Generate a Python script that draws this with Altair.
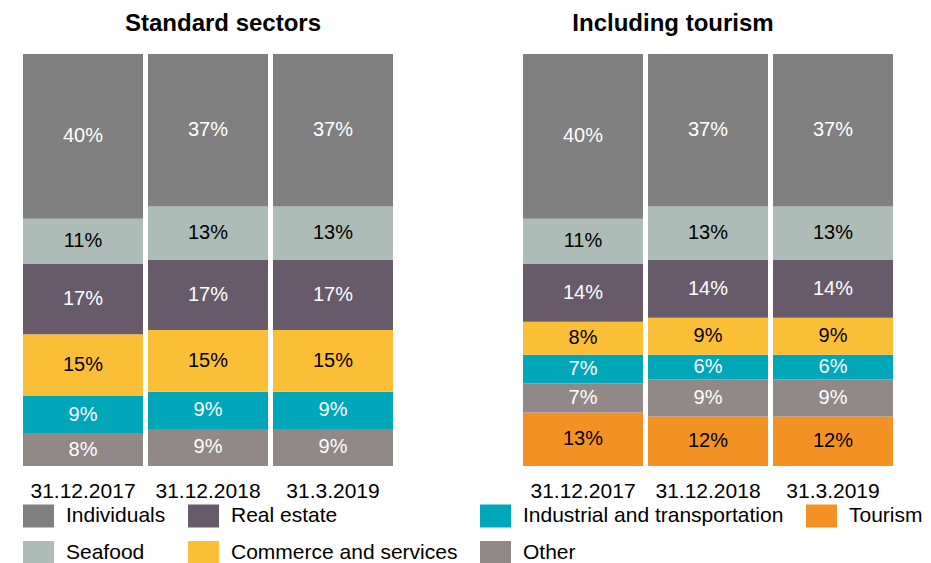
import altair as alt
import pandas as pd

dates = ["31.12.2017", "31.12.2018", "31.3.2019"]

# sectors listed in stacking order, bottom to top
std_sectors = ["Other", "Industrial and transportation", "Commerce and services",
               "Real estate", "Seafood", "Individuals"]
std_values = {
    "Other": [8, 9, 9],
    "Industrial and transportation": [9, 9, 9],
    "Commerce and services": [15, 15, 15],
    "Real estate": [17, 17, 17],
    "Seafood": [11, 13, 13],
    "Individuals": [40, 37, 37],
}

tour_sectors = ["Tourism", "Other", "Industrial and transportation", "Commerce and services",
                "Real estate", "Seafood", "Individuals"]
tour_values = {
    "Tourism": [13, 12, 12],
    "Other": [7, 9, 9],
    "Industrial and transportation": [7, 6, 6],
    "Commerce and services": [8, 9, 9],
    "Real estate": [14, 14, 14],
    "Seafood": [11, 13, 13],
    "Individuals": [40, 37, 37],
}

# legend entries (filled column by column: two rows, four columns)
legend_order = ["Individuals", "Seafood", "Real estate", "Commerce and services",
                "Industrial and transportation", "Other", "Tourism"]
legend_colors = ["#808080", "#adbcb6", "#665a6b", "#fbbf37",
                 "#00a7b9", "#918888", "#f39222"]
dark_sectors = ["Individuals", "Real estate", "Industrial and transportation", "Other"]


def make_df(sectors, values):
    rows = []
    for i, s in enumerate(sectors):
        for d, v in zip(dates, values[s]):
            rows.append({"date": d, "sector": s, "value": v, "order": i})
    return pd.DataFrame(rows)


FONT = "Liberation Sans"


def panel(df, title, dx):
    base = alt.Chart(df).transform_stack(
        stack="value", as_=["y0", "y1"], groupby=["date"],
        sort=[alt.SortField("order", order="ascending")]
    ).transform_calculate(
        mid="(datum.y0 + datum.y1) / 2",
        label="datum.value + '%'"
    )
    x = alt.X("date:N", sort=dates, title=None,
              scale=alt.Scale(paddingInner=0.04, paddingOuter=0),
              axis=alt.Axis(domain=False, ticks=False, labelAngle=0, labelFont=FONT,
                            labelFontSize=21, labelColor="#000000", labelPadding=14))
    bars = base.mark_bar().encode(
        x=x,
        y=alt.Y("y0:Q", scale=alt.Scale(domain=[0, 100]), axis=None),
        y2="y1:Q",
        color=alt.Color("sector:N",
                        scale=alt.Scale(domain=legend_order, range=legend_colors),
                        legend=alt.Legend(title=None, orient="none", legendX=0, legendY=446,
                                          columns=4, columnPadding=22, rowPadding=9,
                                          symbolType="M-1,-0.742L1,-0.742L1,0.742L-1,0.742Z",
                                          symbolSize=961, symbolStrokeWidth=0,
                                          labelFont=FONT, labelFontSize=21,
                                          labelColor="#000000", labelOffset=12,
                                          labelLimit=400)),
    )
    text = base.mark_text(font=FONT, fontSize=20).encode(
        x=alt.X("date:N", sort=dates),
        y=alt.Y("mid:Q"),
        text="label:N",
        color=alt.condition(alt.FieldOneOfPredicate(field="sector", oneOf=dark_sectors),
                            alt.value("#ffffff"), alt.value("#000000")),
    )
    return alt.layer(bars, text).properties(
        width=370, height=412,
        title=alt.TitleParams(title, font=FONT, fontSize=24, fontWeight="bold",
                              color="#000000", anchor="middle", dx=dx, offset=18),
    )


left = panel(make_df(std_sectors, std_values), "Standard sectors", 15)
right = panel(make_df(tour_sectors, tour_values), "Including tourism", -35)

chart = alt.hconcat(left, right, spacing=130).properties(
    padding={"left": 15, "top": 4, "right": 0, "bottom": 0}
).configure_view(stroke=None)

chart.save("out.html", embed_options={"renderer": "svg", "actions": False})
